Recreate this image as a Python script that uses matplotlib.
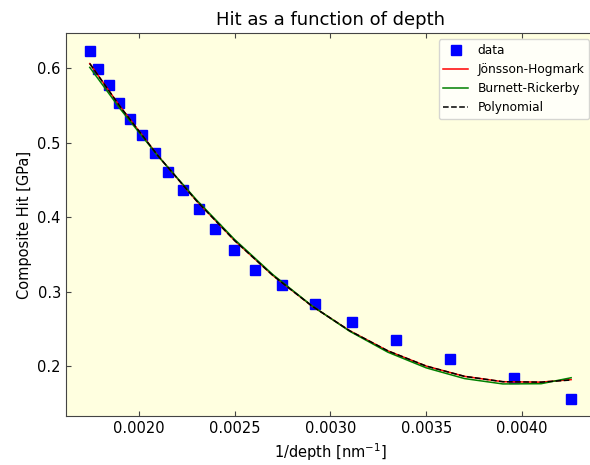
import matplotlib
matplotlib.use("Agg")
import matplotlib.pyplot as plt

plt.rcParams["font.family"] = ["DejaVu Sans"]
plt.rcParams["font.size"] = 10.5

# Measured composite hardness against inverse indentation depth
inv_depth = [0.001743, 0.0017875, 0.001842, 0.0018956, 0.0019514, 0.0020157,
             0.0020851, 0.0021499, 0.002228, 0.0023117, 0.002398, 0.0024977,
             0.0026057, 0.0027483, 0.002919, 0.0031123, 0.003342, 0.003624,
             0.0039598, 0.0042574]
hit = [0.6237, 0.5992, 0.5782, 0.5541, 0.5323, 0.5108, 0.4862, 0.4608,
       0.4373, 0.4111, 0.3843, 0.3560, 0.3296, 0.3087, 0.2841, 0.2592,
       0.2351, 0.2096, 0.1846, 0.1565]

# Model curves evaluated along the depth range
fit_x = [0.001743, 0.0019, 0.0021, 0.0023, 0.0025, 0.0027, 0.0029, 0.0031,
         0.0033, 0.0035, 0.0037, 0.0039, 0.0041, 0.004257]
jh_fit = [0.6064, 0.5492, 0.4824, 0.4222, 0.3686, 0.3217, 0.2814, 0.2477,
          0.2206, 0.2002, 0.1864, 0.1792, 0.1786, 0.1820]
br_fit = [0.6013, 0.5462, 0.4820, 0.4235, 0.3700, 0.3228, 0.2818, 0.2470,
          0.2188, 0.1978, 0.1834, 0.1762, 0.1765, 0.1845]
poly_fit = [0.6064, 0.5492, 0.4824, 0.4222, 0.3686, 0.3217, 0.2814, 0.2477,
            0.2206, 0.2002, 0.1864, 0.1792, 0.1786, 0.1815]

W, H = 590, 465
fig = plt.figure(figsize=(W / 100, H / 100), dpi=100)
left, right, top, bottom = 65.7, 595.3, 33.3, 416.0
ax = fig.add_axes([left / W, 1 - bottom / H, (right - left) / W, (bottom - top) / H])
ax.set_facecolor("lightyellow")

ax.plot(inv_depth, hit, "s", color="blue", markersize=7, label="data")
ax.plot(fit_x, jh_fit, "-", color="red", lw=1.1, label="Jönsson-Hogmark")
ax.plot(fit_x, br_fit, "-", color="green", lw=1.1, label="Burnett-Rickerby")
ax.plot(fit_x, poly_fit, "--", color="black", lw=1.1, label="Polynomial")

ax.set_xticks([0.0020, 0.0025, 0.0030, 0.0035, 0.0040])
ax.set_yticks([0.2, 0.3, 0.4, 0.5, 0.6])
ax.tick_params(direction="in", top=True, right=True, colors="#444444", labelcolor="black")
for s in ax.spines.values():
    s.set_color("#444444")

ax.set_title("Hit as a function of depth", fontsize=13)
ax.set_xlabel("1/depth [nm$^{-1}$]")
ax.set_ylabel("Composite Hit [GPa]")
ax.legend(loc="upper right", fontsize="small")

fig.savefig("out.png", dpi=100)
